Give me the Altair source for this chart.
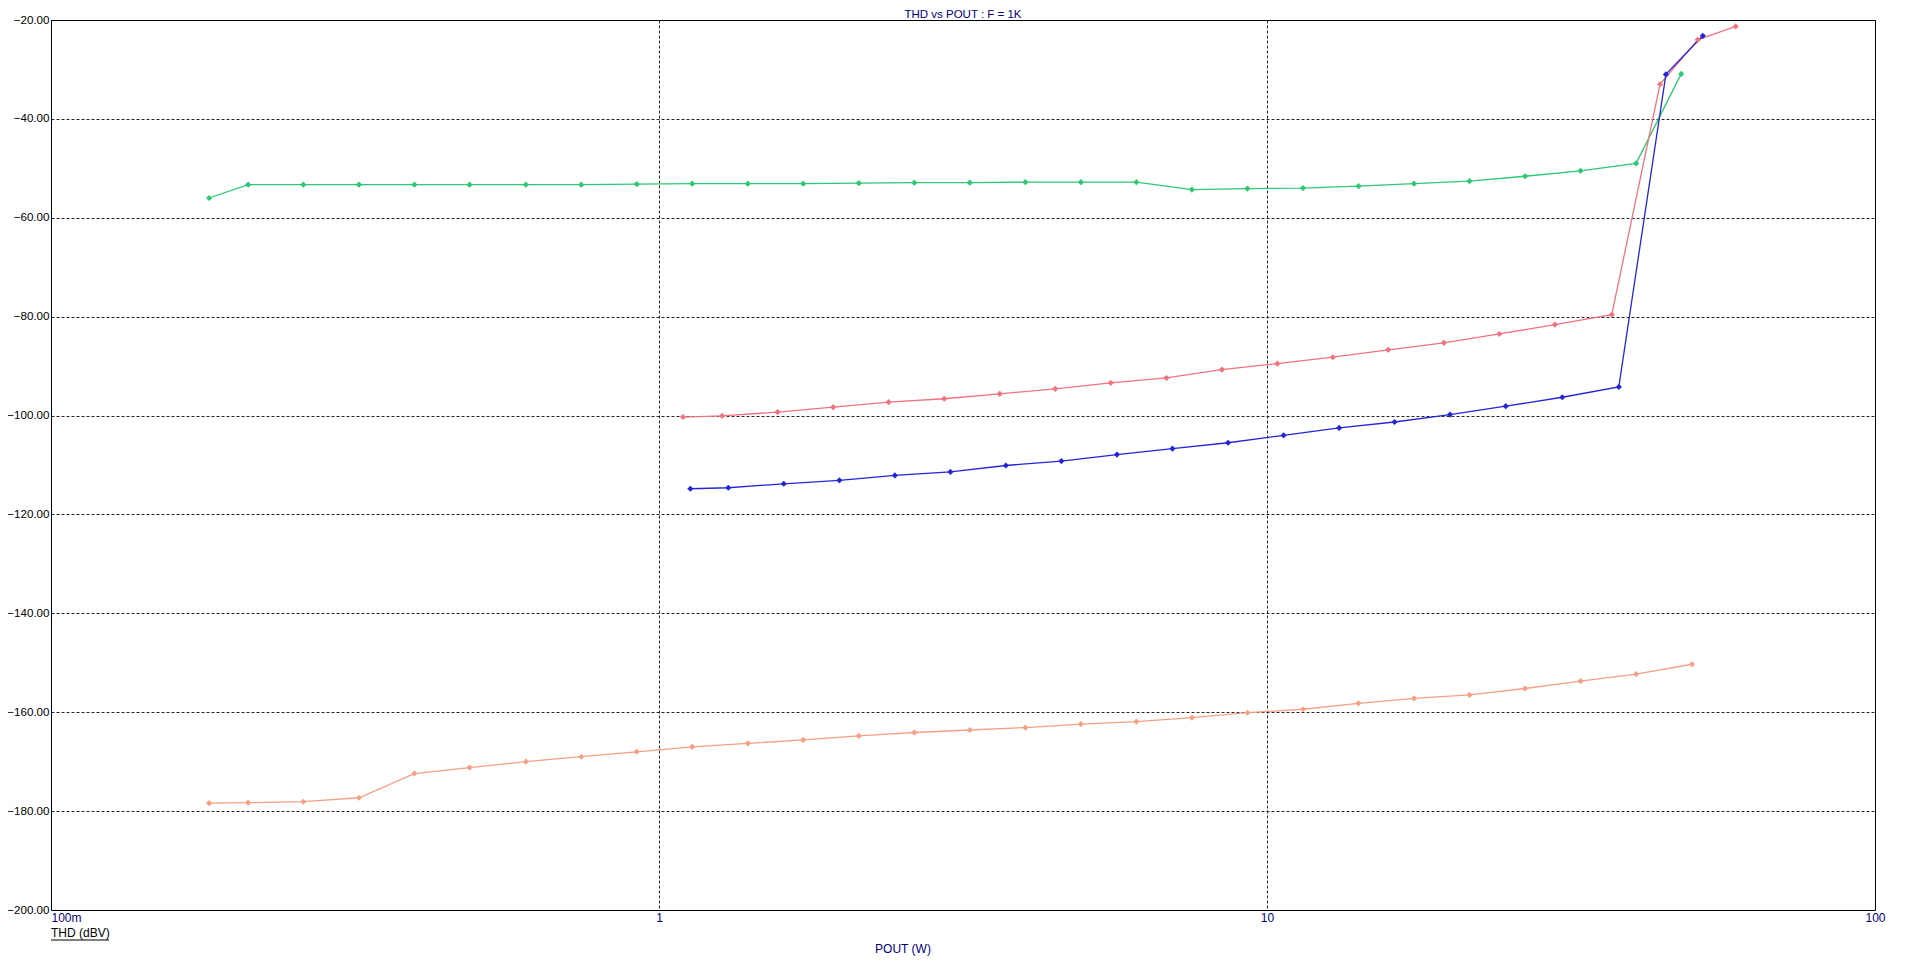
import altair as alt
import pandas as pd

# ---- data ----
green_p = [0.182, 0.211, 0.260, 0.321, 0.396, 0.488, 0.604, 0.745, 0.919, 1.134, 1.40, 1.727,
           2.131, 2.63, 3.245, 4.005, 4.942, 6.098, 7.525, 9.286, 11.46, 14.14, 17.45, 21.53,
           26.57, 32.79, 40.46, 48.0]
green_thd = [-56.0, -53.3, -53.3, -53.3, -53.3, -53.3, -53.3, -53.3, -53.2, -53.1, -53.1, -53.1,
             -53.0, -52.9, -52.9, -52.8, -52.8, -52.8, -54.3, -54.1, -54.0, -53.6, -53.1, -52.6,
             -51.6, -50.5, -49.0, -30.9]

red_p = [1.095, 1.27, 1.567, 1.934, 2.386, 2.945, 3.634, 4.484, 5.533, 6.83, 8.43, 10.4,
         12.83, 15.83, 19.54, 24.11, 29.75, 36.9, 44.3, 51.1, 59.0]
red_thd = [-100.3, -100.05, -99.3, -98.3, -97.3, -96.6, -95.6, -94.6, -93.4, -92.4, -90.7, -89.5,
           -88.2, -86.7, -85.3, -83.5, -81.6, -79.6, -33.0, -24.0, -21.3]

blue_p = [1.126, 1.30, 1.604, 1.98, 2.443, 3.015, 3.72, 4.59, 5.665, 6.99, 8.63, 10.65,
          13.14, 16.21, 20.0, 24.7, 30.6, 37.9, 45.3, 52.1]
blue_thd = [-114.8, -114.6, -113.8, -113.1, -112.1, -111.4, -110.1, -109.2, -107.9, -106.7, -105.5,
            -104.0, -102.5, -101.3, -99.8, -98.1, -96.3, -94.2, -31.0, -23.2]

orange_p = [0.182, 0.211, 0.260, 0.321, 0.396, 0.488, 0.604, 0.745, 0.919, 1.134, 1.40, 1.727,
            2.131, 2.63, 3.245, 4.005, 4.942, 6.098, 7.525, 9.286, 11.46, 14.14, 17.45, 21.53,
            26.57, 32.79, 40.46, 50.0]
orange_thd = [-178.4, -178.3, -178.1, -177.3, -172.4, -171.2, -170.0, -169.0, -168.0, -167.0, -166.3,
              -165.6, -164.8, -164.1, -163.6, -163.1, -162.4, -161.9, -161.1, -160.1, -159.4, -158.2,
              -157.2, -156.5, -155.2, -153.7, -152.3, -150.3]

series_names = ["orange", "green", "red", "blue"]
series_colors = ["#f5a085", "#2cc873", "#f27282", "#2525d8"]

x_ticks = [0.1, 1, 10, 100]
y_ticks = [-200, -180, -160, -140, -120, -100, -80, -60, -40, -20]

title_text = "THD vs POUT : F = 1K"
x_title = "POUT (W)"
y_title = "THD (dBV)"

rows = []
for name, ps, vs in [("orange", orange_p, orange_thd), ("green", green_p, green_thd),
                     ("red", red_p, red_thd), ("blue", blue_p, blue_thd)]:
    for p, v in zip(ps, vs):
        rows.append({"series": name, "P": p, "THD": v})
df = pd.DataFrame(rows)

FONT = "Liberation Sans"
NAVY = "#00007a"

x_enc = alt.X("P:Q",
              scale=alt.Scale(type="log", domain=[0.1, 100], nice=False),
              axis=alt.Axis(values=x_ticks, title=None, ticks=False, domain=False,
                            grid=True, gridColor="#000000", gridDash=[3, 2], gridOpacity=0.85,
                            labelFont=FONT, labelFontSize=12, labelColor=NAVY, labelPadding=2,
                            labelFlush=False,
                            labelAlign={"condition": {"test": "datum.value < 0.5", "value": "left"},
                                        "value": "center"},
                            labelExpr="datum.value < 0.5 ? '100m' : datum.value < 5 ? '1' : datum.value < 50 ? '10' : '100'"))
y_enc = alt.Y("THD:Q",
              scale=alt.Scale(domain=[-200, -20], nice=False),
              axis=alt.Axis(values=y_ticks, format=".2f", title=None, ticks=False, domain=False,
                            grid=True, gridColor="#000000", gridDash=[3, 2], gridOpacity=0.85,
                            labelFont=FONT, labelFontSize=11.6, labelColor="#000000", labelPadding=2))
color_enc = alt.Color("series:N", scale=alt.Scale(domain=series_names, range=series_colors), legend=None)

base = alt.Chart(df)
lines = base.mark_line(strokeWidth=1.3).encode(
    x=x_enc, y=y_enc, color=color_enc, order="P:Q")
points = base.mark_point(shape="diamond", filled=True, size=38, opacity=1).encode(
    x="P:Q", y="THD:Q", color=color_enc)

one = pd.DataFrame({"k": [0]})
title_mark = alt.Chart(one).mark_text(text=title_text, font=FONT, fontSize=11.5, color=NAVY,
                                      align="center", baseline="middle").encode(
    x=alt.value(912), y=alt.value(-5))
xtitle_mark = alt.Chart(one).mark_text(text=x_title, font=FONT, fontSize=12, color=NAVY,
                                       align="center", baseline="middle").encode(
    x=alt.value(852), y=alt.value(929))
ytitle_mark = alt.Chart(one).mark_text(text=y_title, font=FONT, fontSize=12, color="#000000",
                                       align="left", baseline="middle").encode(
    x=alt.value(0), y=alt.value(913))
underline = alt.Chart(one).mark_rule(color="#000000", strokeWidth=1).encode(
    x=alt.value(0), x2=alt.value(58), y=alt.value(920))

chart = alt.layer(lines, points, title_mark, xtitle_mark, ytitle_mark, underline).properties(
    width=1824, height=890,
    autosize=alt.AutoSizeParams(type="none"),
    padding={"left": 43, "top": 12, "right": 20, "bottom": 50},
    background="white",
).configure_view(stroke="#000000", strokeWidth=1)

chart.save("out.html", embed_options={"renderer": "svg", "actions": False})
